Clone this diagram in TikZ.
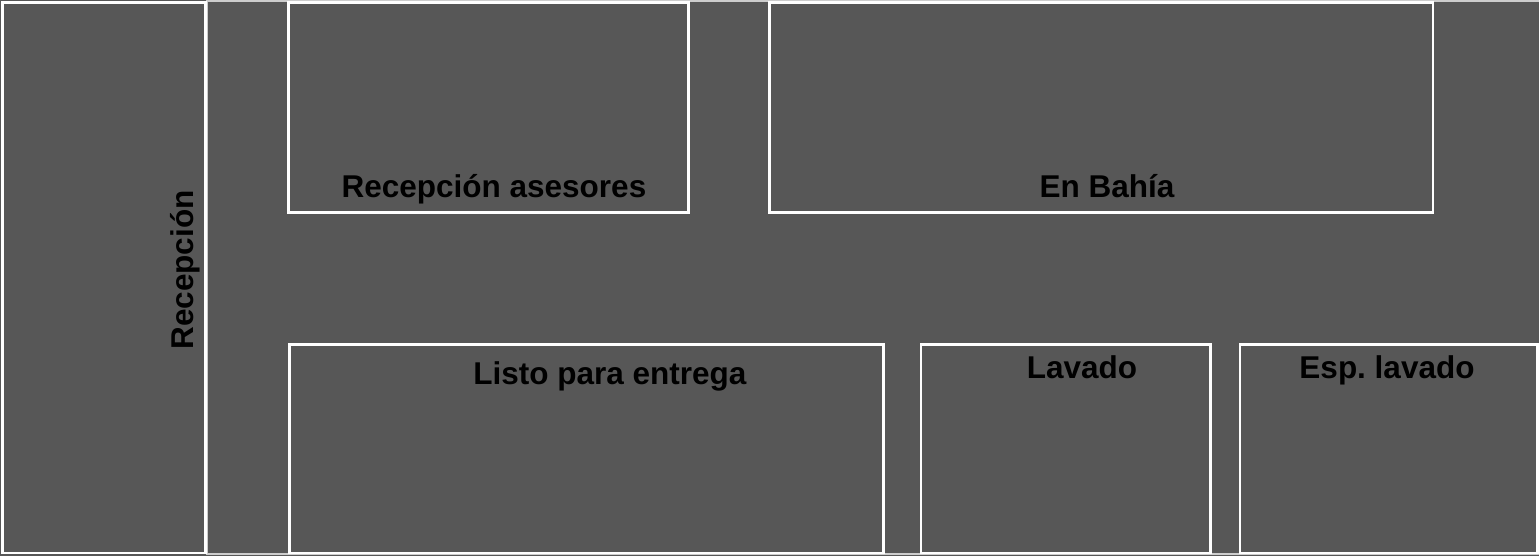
\documentclass[tikz,border=0pt]{standalone}
\usepackage{fontspec}
\setmainfont{Liberation Sans}
\definecolor{fondo}{RGB}{87,87,87}
\definecolor{pasillo}{RGB}{205,205,205}
\tikzset{
  zona/.style={draw=white,fill=fondo,line width=1.1pt},
  lbl/.style={text=black,font=\fontsize{15.75}{18}\selectfont\bfseries,inner sep=0pt}
}

\begin{document}
\begin{tikzpicture}[x=0.5pt,y=-0.5pt,line join=miter]
\useasboundingbox (0,0) rectangle (1539,556);
\fill[fondo] (0,0) rectangle (1539,556);
% pasillo de fondo
\draw[pasillo,line width=1pt] (207,1.3) rectangle (1541,554.3);
% zonas
\draw[zona] (2.5,2.5) rectangle (205.5,553);
\draw[zona] (288.5,2.5) rectangle (688.5,212.5);
\draw[zona] (769.5,2.5) rectangle (1433,212.5);
\draw[zona] (289.5,344.5) rectangle (883.5,553);
\draw[zona] (921,344.5) rectangle (1210.5,553);
\draw[zona] (1240,344.5) rectangle (1537.5,553);
% rotulos
\node[lbl,rotate=90,anchor=base] (recepcion) at (193,270) {Recepción};
\node[lbl,anchor=base] (asesores) at (494,198) {Recepción asesores};
\node[lbl,anchor=base] (bahia) at (1107,198) {En Bahía};
\node[lbl,anchor=base] (listo) at (610,384) {Listo para entrega};
\node[lbl,anchor=base] (lavado) at (1082,379) {Lavado};
\node[lbl,anchor=base] (esplavado) at (1387,379) {Esp.\ lavado};
\end{tikzpicture}
\end{document}
